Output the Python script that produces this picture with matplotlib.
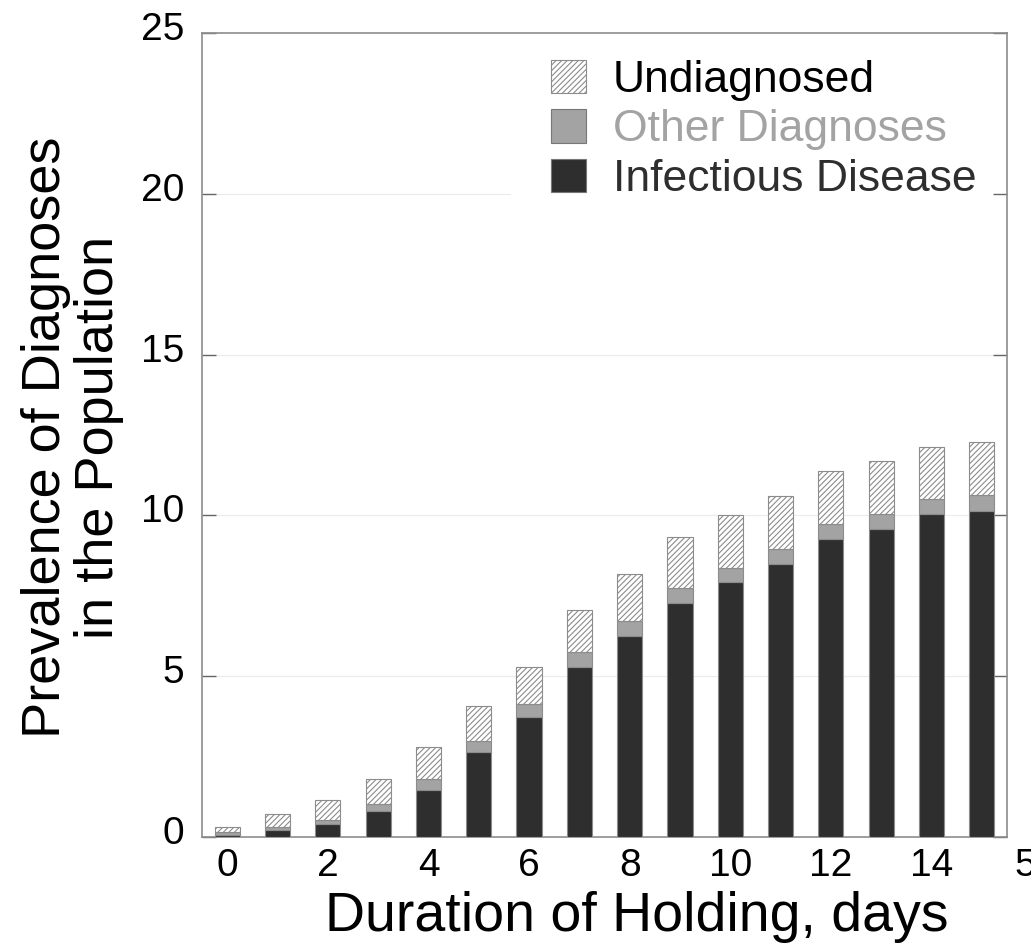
import numpy as np
import matplotlib
matplotlib.use("Agg")
import matplotlib.pyplot as plt
import matplotlib.transforms as mtransforms
from matplotlib.patches import Patch

# prevalence (%) by day of holding, split by diagnosis
days = np.arange(16)
infectious = [0.07, 0.21, 0.40, 0.82, 1.46, 2.63, 3.73, 5.30, 6.25, 7.29,
              7.92, 8.50, 9.27, 9.58, 10.05, 10.15]
other_dx = [0.08, 0.09, 0.13, 0.20, 0.33, 0.37, 0.42, 0.44, 0.46, 0.44,
            0.43, 0.46, 0.46, 0.47, 0.47, 0.47]
undiagnosed = [0.15, 0.43, 0.63, 0.78, 1.02, 1.08, 1.15, 1.31, 1.47, 1.60,
               1.67, 1.64, 1.65, 1.63, 1.62, 1.65]

x_ticks = [0, 2, 4, 6, 8, 10, 12, 14]
y_ticks = [0, 5, 10, 15, 20, 25]

plt.rcParams["font.family"] = ["Liberation Sans", "DejaVu Sans"]
plt.rcParams["hatch.linewidth"] = 0.8

DARK = "#2e2e2e"
MID = "#a3a3a3"
EDGE = "#8c8c8c"

fig = plt.figure(figsize=(10.31, 9.43), dpi=100)
ax = fig.add_axes([0.196, 0.1124, 0.7807, 0.8526])

inf = np.array(infectious)
oth = np.array(other_dx)
und = np.array(undiagnosed)

ax.bar(days, inf, width=0.5, color=DARK, edgecolor=EDGE, linewidth=0.8, zorder=3)
ax.bar(days, oth, width=0.5, bottom=inf, color=MID, edgecolor=EDGE,
       linewidth=0.8, zorder=3)
ax.bar(days, und, width=0.5, bottom=inf + oth, color="white", edgecolor=EDGE,
       hatch="//////", linewidth=0.8, zorder=3)

ax.set_xlim(-0.5, 15.5)
ax.set_ylim(0, 25)
ax.set_xticks(x_ticks)
ax.set_yticks(y_ticks)
ax.tick_params(axis="x", length=0, labelsize=28, pad=8)
ax.tick_params(axis="y", direction="in", length=10, width=1, color="#666666",
               labelsize=28, right=True, pad=13)
# y tick labels sit a little above their ticks
lift = mtransforms.ScaledTranslation(0, 7 / 100, fig.dpi_scale_trans)
for lbl in ax.get_yticklabels():
    lbl.set_transform(lbl.get_transform() + lift)

# faint horizontal guides; the one at 20 stops short of the legend
for yv in y_ticks[1:-1]:
    ax.axhline(yv, xmin=0.0, xmax=0.383 if yv == 20 else 1.0,
               color="#ebebeb", linewidth=0.8, zorder=0)

for s in ax.spines.values():
    s.set_color("#8c8c8c")
    s.set_linewidth(1.2)

ax.set_xlabel("Duration of Holding, days", fontsize=40, va="center")
ax.xaxis.set_label_coords(0.54, -0.100)
ax.set_ylabel("Prevalence of Diagnoses\nin the Population", fontsize=39,
              linespacing=1.1, va="center")
ax.yaxis.set_label_coords(-0.161, 0.497)

handles = [
    Patch(facecolor="white", edgecolor=EDGE, hatch="//////", linewidth=0.8),
    Patch(facecolor=MID, edgecolor="#777777", linewidth=0.8),
    Patch(facecolor=DARK, edgecolor="#777777", linewidth=0.8),
]
leg = ax.legend(handles, ["Undiagnosed", "Other Diagnoses", "Infectious Disease"],
                loc="upper right", bbox_to_anchor=(0.995, 1.0), frameon=False,
                fontsize=32, handlelength=0.78, handleheight=0.78,
                handletextpad=0.6, labelspacing=0.19, borderpad=0.1)
leg.set_zorder(5)
for txt, col in zip(leg.get_texts(), ["black", "#a3a3a3", "#2e2e2e"]):
    txt.set_color(col)

# tick label from the next panel, clipped by the figure edge
fig.text(1014 / 1031, 1 - 866 / 943, "5", fontsize=28, ha="left", va="center")

fig.savefig("out.png", dpi=100)
